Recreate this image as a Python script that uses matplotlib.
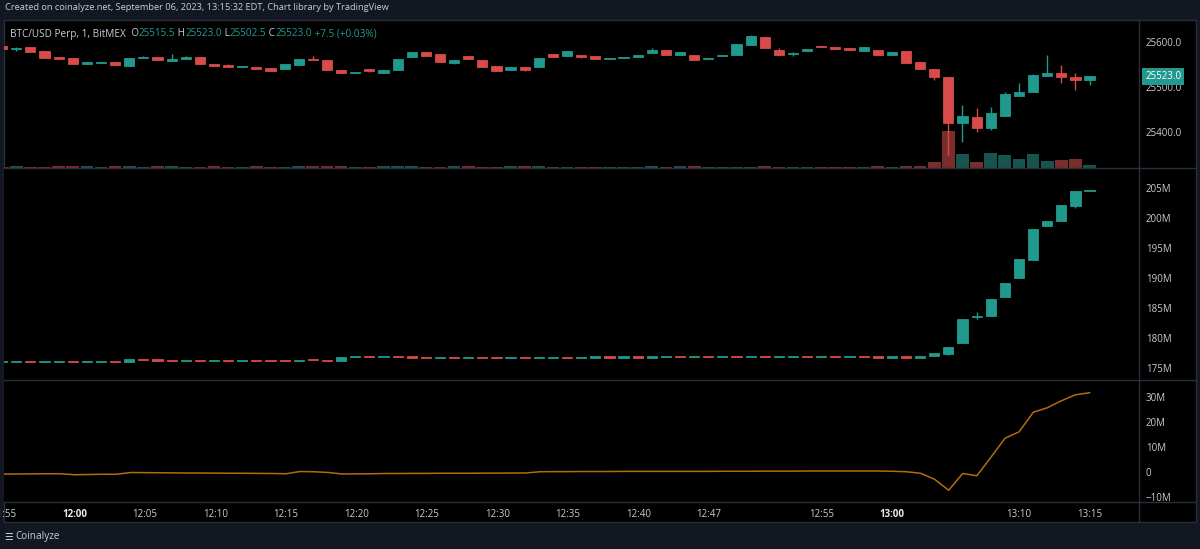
import matplotlib
matplotlib.use("Agg")
import numpy as np
import matplotlib.pyplot as plt
import matplotlib.transforms as mtransforms
from matplotlib.patches import Rectangle
from matplotlib.lines import Line2D

plt.rcParams['font.family'] = ['Open Sans', 'DejaVu Sans']

# --- data (1-minute candles, 11:55 .. 13:15, a few minutes missing) ---
tick_idx = [0, 5, 10, 15, 20, 25, 30, 35, 40, 45, 50, 58, 63, 72, 77]
tick_labels = ["11:55", "12:00", "12:05", "12:10", "12:15", "12:20", "12:25", "12:30",
               "12:35", "12:40", "12:47", "12:55", "13:00", "13:10", "13:15"]
bold_labels = ["12:00", "13:00"]

price_open = [25590, 25584.5, 25588, 25578.5, 25566, 25563, 25551, 25553.5, 25554, 25546,
              25564, 25566, 25556, 25561, 25566, 25549.5, 25548, 25544.5, 25543.5, 25541.5,
              25540, 25549, 25562, 25559, 25537, 25530, 25538.5, 25530, 25537, 25565,
              25577, 25573, 25553, 25569, 25560, 25546.5, 25537, 25544, 25543, 25572,
              25568, 25570.5, 25567.5, 25561, 25564.5, 25565, 25574, 25582, 25571, 25570.5,
              25561, 25569, 25570, 25593, 25610, 25581.5, 25573, 25580, 25591, 25588,
              25585, 25580, 25581, 25570, 25579, 25555, 25538, 25521.5, 25418, 25433,
              25407, 25434, 25478.5, 25487.5, 25524.5, 25529.5, 25521, 25515.5]
price_high = [25591, 25587, 25588, 25579, 25566, 25563, 25554, 25555.5, 25554, 25564.5,
              25569, 25566, 25572, 25567, 25566.5, 25549.5, 25551, 25546, 25543.5, 25541.5,
              25551, 25561.5, 25568, 25559, 25537, 25533.5, 25539, 25537, 25561.5, 25577,
              25577, 25573, 25559, 25569, 25560, 25546.5, 25544, 25544, 25564.5, 25572,
              25579, 25570.5, 25567.5, 25564, 25566, 25570.5, 25586, 25582, 25577, 25570.5,
              25564, 25571, 25595, 25615.5, 25610, 25586, 25577, 25584, 25591, 25588,
              25585, 25588, 25581, 25577, 25579, 25555, 25538, 25521.5, 25459, 25452,
              25455.5, 25488, 25508, 25528, 25571, 25549, 25530, 25523]
price_low = [25583, 25578, 25577, 25564, 25562, 25550, 25550, 25553, 25547, 25546,
             25563.5, 25558, 25556, 25561, 25550, 25546.5, 25544, 25544, 25540, 25535.5,
             25540, 25549, 25559, 25536, 25530, 25529.5, 25532, 25530, 25537, 25565,
             25567, 25555, 25549.5, 25562, 25543, 25534, 25537, 25535, 25543, 25565,
             25568, 25564.5, 25561, 25561, 25564.5, 25565, 25574, 25571, 25571, 25559,
             25561, 25569, 25570, 25593, 25586, 25571, 25569, 25580, 25589, 25583,
             25582, 25580, 25570, 25570, 25553, 25540, 25515.5, 25349, 25377, 25399,
             25403, 25434, 25478.5, 25487.5, 25524.5, 25508, 25493, 25502.5]
price_close = [25584, 25586.5, 25577, 25564.5, 25562, 25550, 25554, 25555, 25547, 25564,
               25566, 25558, 25561.5, 25566, 25550, 25546.5, 25544, 25546, 25540, 25535.5,
               25550.5, 25561, 25559, 25536, 25530, 25532.5, 25534, 25537, 25561.5, 25576.5,
               25568, 25555, 25558.5, 25562, 25543, 25534, 25544, 25537, 25564.5, 25565,
               25578.5, 25566, 25561, 25564, 25566, 25570.5, 25581.5, 25571, 25577, 25559,
               25564, 25571, 25595, 25612.5, 25586, 25571, 25575.5, 25584, 25589, 25583,
               25582, 25588, 25570, 25577, 25553, 25540, 25521.5, 25418, 25435, 25407.5,
               25442, 25484.5, 25488, 25526.5, 25529.5, 25521, 25515, 25523]
volume = [1.5, 1.8, 1.2, 1.2, 2.0, 2.0, 1.8, 1.2, 1.8, 2.5,
          1.2, 2.0, 1.8, 1.2, 1.2, 1.8, 1.2, 1.2, 2.0, 1.2,
          1.2, 2.5, 1.8, 1.8, 2.5, 1.2, 1.2, 1.8, 1.8, 1.8,
          1.2, 1.2, 1.8, 1.8, 1.2, 1.2, 1.8, 1.8, 1.8, 1.2,
          1.2, 1.2, 1.2, 1.2, 1.2, 1.2, 2.0, 1.2, 2.0, 1.8,
          1.2, 1.2, 1.2, 1.2, 2.0, 1.2, 1.2, 1.2, 1.2, 1.2,
          1.2, 1.2, 1.8, 1.2, 2.0, 2.0, 6.0, 37.0, 14.0, 6.0,
          15.0, 13.0, 8.7, 14.0, 6.7, 7.7, 9.0, 3.0]

# open interest candles (millions USD)
oi_open = [176.0, 176.0, 176.0, 175.98, 176.0, 176.1, 176.0, 176.1, 176.15, 176.05,
           176.5, 176.4, 176.3, 176.25, 176.3, 176.2, 176.2, 176.18, 176.22, 176.2,
           176.18, 176.15, 176.45, 176.35, 176.2, 176.95, 177.0, 176.95, 177.0, 176.85,
           176.8, 176.75, 176.8, 176.75, 176.8, 176.75, 176.7, 176.75, 176.7, 176.75,
           176.8, 176.75, 176.8, 176.85, 176.8, 176.85, 176.8, 176.85, 176.9, 176.85,
           176.9, 176.85, 176.9, 176.85, 176.9, 176.85, 176.9, 176.95, 176.9, 176.95,
           176.9, 176.95, 176.9, 176.8, 176.9, 176.8, 177.0, 177.4, 179.3, 183.5,
           183.7, 186.9, 190.0, 193.0, 198.8, 199.5, 202.1, 204.6]
oi_close = [176.0, 176.0, 175.98, 176.0, 176.1, 176.0, 176.1, 176.15, 176.05, 176.5,
            176.4, 176.3, 176.25, 176.3, 176.2, 176.2, 176.18, 176.22, 176.2, 176.18,
            176.15, 176.45, 176.35, 176.2, 176.95, 177.0, 176.95, 177.0, 176.85, 176.8,
            176.75, 176.8, 176.75, 176.8, 176.75, 176.7, 176.75, 176.7, 176.75, 176.8,
            176.75, 176.8, 176.85, 176.8, 176.85, 176.8, 176.85, 176.9, 176.85, 176.9,
            176.85, 176.9, 176.85, 176.9, 176.85, 176.9, 176.95, 176.9, 176.95, 176.9,
            176.95, 176.9, 176.8, 176.9, 176.8, 177.0, 177.5, 178.5, 183.2, 183.8,
            186.6, 189.2, 193.2, 198.3, 199.5, 202.2, 204.55, 204.8]
oi_wick_idx = [67, 69, 76]
oi_wick_high = [178.5, 184.4, 204.55]
oi_wick_low = [177.3, 183.2, 201.8]

# aggregated delta line (millions)
delta = [-0.9, -0.9, -0.85, -0.8, -0.8, -1.2, -1.1, -1.0, -1.0, -0.3,
         -0.35, -0.4, -0.45, -0.5, -0.5, -0.55, -0.6, -0.6, -0.65, -0.7,
         -0.8, 0.1, 0.0, -0.3, -0.9, -0.85, -0.8, -0.7, -0.7, -0.65,
         -0.65, -0.6, -0.6, -0.6, -0.55, -0.55, -0.5, -0.5, 0.0, 0.05,
         0.05, 0.1, 0.1, 0.1, 0.15, 0.15, 0.15, 0.15, 0.15, 0.15,
         0.15, 0.2, 0.2, 0.2, 0.25, 0.25, 0.25, 0.3, 0.3, 0.3,
         0.3, 0.3, 0.3, 0.2, 0.0, -0.6, -3.0, -7.4, -0.7, -1.6,
         5.8, 13.4, 16.0, 23.8, 25.6, 28.4, 30.8, 31.6]

# --- style ---
BG = "#131722"
PANEL = "#000000"
GRID = "#2a2e39"
TXT = "#c9ccd4"
UP = "#22998d"
DOWN = "#d84b48"
UP_VOL = "#18544f"
DOWN_VOL = "#7a2d2c"
LINE = "#b46c08"

W, H = 1200, 549
fig = plt.figure(figsize=(W / 100, H / 100), dpi=100)
fig.patch.set_facecolor(BG)


def fx(px):
    return px / W


def fy(py):
    return 1 - py / H


fig.add_artist(Rectangle((fx(4), fy(522)), fx(1192), (522 - 20) / H, transform=fig.transFigure,
                         facecolor=PANEL, edgecolor=GRID, linewidth=1, zorder=0))


def style_ax(ax):
    ax.set_facecolor(PANEL)
    for s in ax.spines.values():
        s.set_visible(False)
    ax.set_xlim(0.13, 80.5)
    ax.yaxis.tick_right()
    ax.tick_params(axis='y', length=0, pad=5, labelsize=7, labelcolor=TXT)
    ax.tick_params(axis='x', length=0, labelbottom=False)


def make_ax(top, bottom):
    ax = fig.add_axes([fx(4), fy(bottom), fx(1135), (bottom - top) / H])
    style_ax(ax)
    return ax


def draw_candles(ax, o, h, l, c, min_h):
    o, h, l, c = map(np.asarray, (o, h, l, c))
    x = np.arange(len(o))
    up = c >= o
    cols = np.where(up, UP, DOWN)
    lo = np.minimum(o, c)
    hgt = np.maximum(np.abs(c - o), min_h)
    ax.vlines(x, l, h, colors=cols, linewidth=1, zorder=3)
    ax.bar(x, hgt, bottom=lo, width=0.72, color=cols, edgecolor=cols, linewidth=0.6, zorder=4)
    return up


ax_p = make_ax(20, 168)
ax_oi = make_ax(168, 380)
ax_d = make_ax(380, 502)

# price pane + volume overlay
ax_v = ax_p.twinx()
ax_v.set_xlim(0.13, 80.5)
ax_v.set_ylim(0, 148)
ax_v.axis('off')
style_ax(ax_p)  # twinx moves the ticks to the left, put them back
up = np.asarray(price_close) >= np.asarray(price_open)
ax_v.bar(np.arange(len(volume)), volume, width=0.9,
         color=np.where(up, UP_VOL, DOWN_VOL), linewidth=0, zorder=1)
ax_p.set_zorder(ax_v.get_zorder() + 1)
ax_p.patch.set_visible(False)
draw_candles(ax_p, price_open, price_high, price_low, price_close, 1.5)
ax_p.set_ylim(25319, 25648)
ax_p.set_yticks([25400, 25500, 25600])
ax_p.set_yticklabels(["25400.0", "25500.0", "25600.0"])

last = price_close[-1]
trans = mtransforms.blended_transform_factory(ax_p.transAxes, ax_p.transData)
ax_p.text(1.0055, last, f"{last:.1f}", transform=trans, color="white", fontsize=7,
          va='center', ha='left', clip_on=False, zorder=10,
          bbox=dict(boxstyle='square,pad=0.3', fc=UP, ec='none'))

# open interest pane
draw_candles(ax_oi, oi_open, oi_close, oi_close, oi_close, 0.18)
ax_oi.vlines(oi_wick_idx, oi_wick_low, oi_wick_high, colors=UP, linewidth=1, zorder=3)
ax_oi.set_ylim(173.05, 208.4)
oi_ticks = [175, 180, 185, 190, 195, 200, 205]
ax_oi.set_yticks(oi_ticks)
ax_oi.set_yticklabels([f"{t}M" for t in oi_ticks])

# delta pane
ax_d.plot(np.arange(len(delta)), delta, color=LINE, linewidth=1.1)
ax_d.set_ylim(-12.1, 36.7)
ax_d.set_yticks([-10, 0, 10, 20, 30])
ax_d.set_yticklabels(["\u221210M", "0", "10M", "20M", "30M"])
ax_d.set_xticks(tick_idx)
ax_d.set_xticklabels(tick_labels)
ax_d.tick_params(axis='x', length=0, pad=5, labelbottom=True, labelsize=7, labelcolor=TXT)
for lab in ax_d.get_xticklabels():
    if lab.get_text() in bold_labels:
        lab.set_fontweight('bold')
        lab.set_color("#e8eaf0")

# pane separators
for yy in (168, 380, 502):
    fig.add_artist(Line2D([fx(4), fx(1196)], [fy(yy), fy(yy)], transform=fig.transFigure,
                          color=GRID, linewidth=1))
fig.add_artist(Line2D([fx(1139), fx(1139)], [fy(20), fy(522)], transform=fig.transFigure,
                      color=GRID, linewidth=1))

# header / legend / footer texts
fig.text(fx(5), fy(8), "Created on coinalyze.net, September 06, 2023, 13:15:32 EDT, Chart library by TradingView",
         color=TXT, fontsize=6.65, va='center', ha='left')

t = ax_p.annotate("BTC/USD Perp, 1, BitMEX", xy=(fx(10), fy(34)), xycoords='figure fraction',
                  color=TXT, fontsize=7.2, va='center', ha='left', annotation_clip=False)
parts = [("  O", TXT), ("25515.5", UP), (" H", TXT), ("25523.0", UP), (" L", TXT),
         ("25502.5", UP), (" C", TXT), ("25523.0", UP), (" +7.5 (+0.03%)", UP)]
for s, col in parts:
    t = ax_p.annotate(s, xy=(1, 0.5), xycoords=t, color=col, fontsize=7.2,
                      va='center', ha='left', annotation_clip=False)

fig.text(fx(4), fy(537), "\u2630", color=TXT, fontsize=7, va='center', ha='left')
fig.text(fx(15), fy(537), "Coinalyze", color=TXT, fontsize=7.2, va='center', ha='left')

fig.savefig("out.png", dpi=100, facecolor=fig.get_facecolor())
